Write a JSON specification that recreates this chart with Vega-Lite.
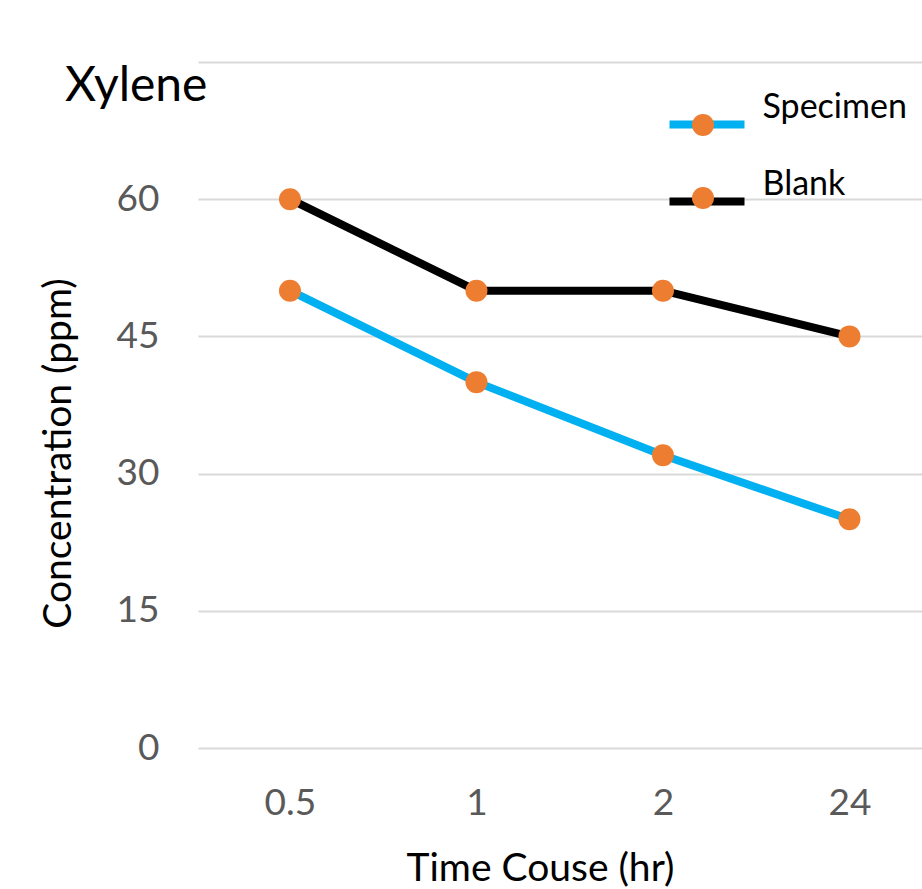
{
  "$schema": "https://vega.github.io/schema/vega-lite/v6.json",
  "width": 724,
  "height": 686,
  "autosize": {"type": "none"},
  "padding": {"left": 198, "top": 62, "right": 0, "bottom": 141},
  "background": "white",
  "title": {"text": "Xylene", "anchor": "start", "frame": "group", "orient": "top", "offset": -87, "dx": -133, "baseline": "alphabetic", "fontSize": 48, "font": "Lato", "fontWeight": "normal", "color": "black"},
  "config": {"view": {"stroke": null}, "font": "Lato"},
  "data": {"values": [
    {"time": "0.5", "series": "Specimen", "concentration": 50},
    {"time": "1", "series": "Specimen", "concentration": 40},
    {"time": "2", "series": "Specimen", "concentration": 32},
    {"time": "24", "series": "Specimen", "concentration": 25},
    {"time": "0.5", "series": "Blank", "concentration": 60},
    {"time": "1", "series": "Blank", "concentration": 50},
    {"time": "2", "series": "Blank", "concentration": 50},
    {"time": "24", "series": "Blank", "concentration": 45}
  ]},
  "encoding": {
    "x": {"field": "time", "type": "ordinal", "sort": ["0.5", "1", "2", "24"],
      "scale": {"type": "point", "padding": 0.441, "align": 0.559},
      "axis": {"domain": false, "ticks": false, "grid": false, "labelAngle": 0, "labelFontSize": 37, "labelColor": "#595959", "labelPadding": 37,
        "title": "Time Couse (hr)", "titleFontSize": 39, "titleFontWeight": "normal", "titleColor": "black", "titleX": 342, "titleY": 132, "titleAlign": "center", "titleBaseline": "alphabetic"}},
    "y": {"field": "concentration", "type": "quantitative",
      "scale": {"domain": [0, 75], "nice": false, "zero": true},
      "axis": {"values": [0, 15, 30, 45, 60, 75], "labelExpr": "datum.value == 75 ? '' : datum.label", "domain": false, "ticks": false, "grid": true, "gridColor": "#d9d9d9", "gridWidth": 2,
        "labelFontSize": 37, "labelColor": "#595959", "labelPadding": 39,
        "title": "Concentration (ppm)", "titleFontSize": 39, "titleFontWeight": "normal", "titleColor": "black", "titleAngle": -90, "titleX": -128, "titleY": 391, "titleAlign": "center", "titleBaseline": "alphabetic"}}
  },
  "layer": [
    {"mark": {"type": "line", "strokeWidth": 8, "strokeCap": "round", "strokeJoin": "round"},
      "encoding": {"color": {"field": "series", "type": "nominal",
        "scale": {"domain": ["Specimen", "Blank"], "range": ["#00B0F0", "#000000"]},
        "legend": {"orient": "none", "legendX": 467.5, "legendY": 21, "title": null, "padding": 0, "symbolType": "stroke", "symbolSize": 5625, "symbolStrokeWidth": 8,
          "labelFontSize": 34, "labelColor": "black", "labelBaseline": "bottom", "labelOffset": 14, "rowPadding": 19}}}},
    {"mark": {"type": "point", "filled": true, "size": 484, "opacity": 1, "color": "#ED7D31"},
      "encoding": {"shape": {"field": "series", "type": "nominal", "sort": ["Specimen", "Blank"],
        "scale": {"range": ["circle", "circle"]},
        "legend": {"orient": "none", "legendX": 494, "legendY": 52, "title": null, "padding": 0, "symbolType": "circle", "symbolSize": 484, "symbolFillColor": "#ED7D31", "symbolStrokeWidth": 0, "symbolOpacity": 1,
          "labelExpr": "''", "labelFontSize": 1, "labelOffset": 0, "rowPadding": 51}}}}
  ]
}
